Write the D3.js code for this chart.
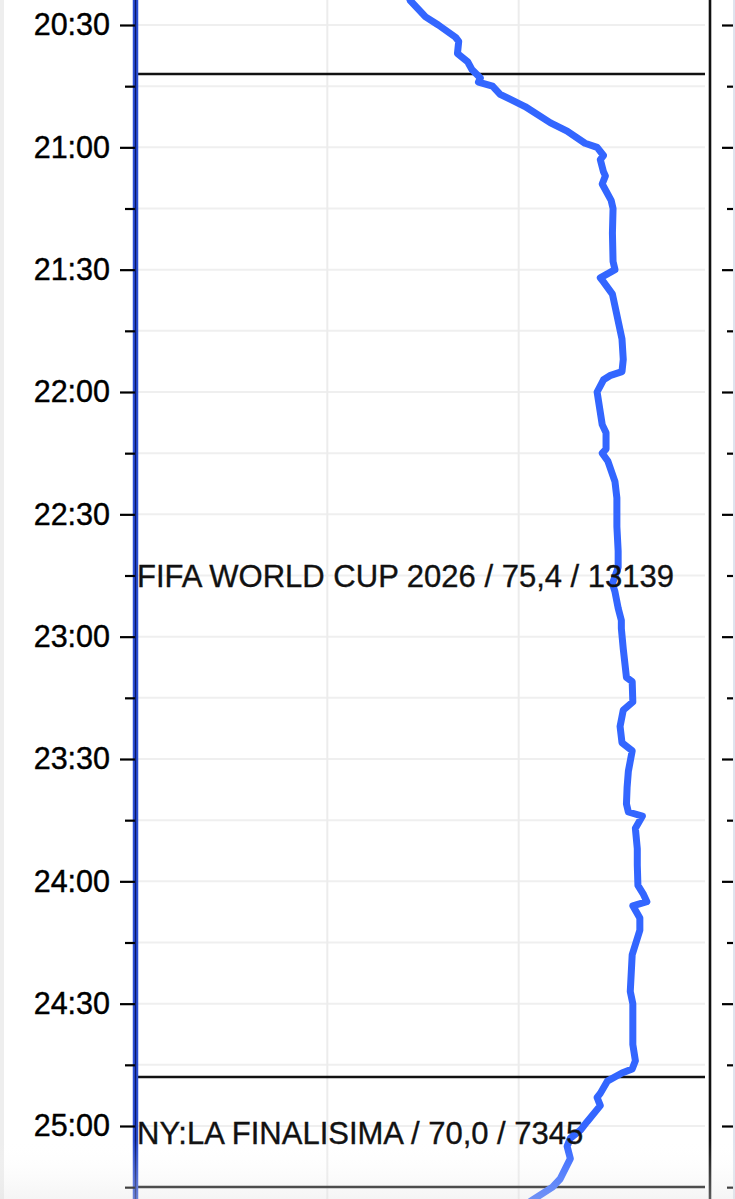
<!DOCTYPE html>
<html>
<head>
<meta charset="utf-8">
<script src="https://cdn.jsdelivr.net/npm/d3@7"></script>
<style>
  html, body { margin: 0; padding: 0; background: #ffffff; }
  svg { display: block; }
  text { font-family: "Liberation Sans", Arial, sans-serif; }
</style>
</head>
<body>
<div id="chart"></div>
<script>
// ---- Data ----
const times = ["20:21","20:24","20:28","20:30","20:33","20:34","20:37","20:39","20:41","20:43","20:44","20:45","20:47","20:50","20:54","20:56","20:59",
  "21:00","21:02","21:03","21:06","21:07","21:09","21:13","21:15","21:21","21:28","21:30","21:32","21:33","21:36","21:47","21:52","21:55","21:56","21:57",
  "22:00","22:08","22:10","22:14","22:15","22:17","22:22","22:26","22:33","22:39","22:43","22:47","22:49","22:53","22:56","22:58",
  "23:03","23:10","23:11","23:16","23:18","23:22","23:26","23:28","23:33","23:37","23:41","23:43","23:44","23:47","23:52","23:56",
  "24:01","24:03","24:05","24:06","24:09","24:12","24:18","24:27","24:30","24:40","24:44","24:46","24:47","24:49","24:52","24:53","24:55","24:59",
  "25:01","25:03","25:05","25:08","25:13","25:15","25:18","25:21"];
const values = [42.3,43.0,45.4,47.4,50.1,50.6,50.4,52.0,52.7,54.0,53.7,55.9,57.1,61.0,65.0,67.6,70.4,
  72.3,73.3,72.8,73.3,73.6,73.1,74.5,74.8,74.7,74.8,75.1,72.8,73.3,74.7,76.2,76.4,76.2,74.3,73.3,
  72.3,73.1,73.7,73.7,73.1,74.0,75.1,75.4,75.4,75.6,75.6,74.7,75.1,75.6,76.1,76.1,
  76.4,76.9,77.8,77.9,76.4,75.9,76.2,77.8,77.2,77.0,76.9,77.2,79.4,78.3,78.6,78.6,
  78.7,79.5,80.1,77.9,79.0,79.0,77.8,77.5,77.9,77.9,78.3,77.8,76.2,73.9,72.8,72.3,72.8,70.7,
  69.7,68.1,67.6,68.1,66.5,65.3,62.3,59.5];

const programNames  = ["FIFA WORLD CUP 2026 / 75,4 / 13139", "NY:LA FINALISIMA / 70,0 / 7345"];
const programStarts = ["20:42", "24:48"];
const programEnds   = ["24:48", "25:15"];

const majorTicks = ["20:30","21:00","21:30","22:00","22:30","23:00","23:30","24:00","24:30","25:00"];
const minorTicks = ["20:15","20:45","21:15","21:45","22:15","22:45","23:15","23:45","24:15","24:45","25:15"];
const xGrid = [30, 60];

// ---- Helpers ----
const toMin = s => { const [h, m] = s.split(":").map(Number); return h * 60 + m; };
const fmt = m => { const h = Math.floor(m / 60), mm = m % 60; return h + ":" + String(mm).padStart(2, "0"); };

const W = 735, H = 1199;
const svg = d3.select("#chart").append("svg").attr("width", W).attr("height", H);
svg.append("rect").attr("width", W).attr("height", H).attr("fill", "#ffffff");

// light screen edge at the far left
svg.append("rect").attr("x", 0).attr("y", 0).attr("width", 4).attr("height", H).attr("fill", "#eeeeee");

const axisX = 135, rightBorder = 710, lineEnd = 705;
const y = d3.scaleLinear().domain([toMin("20:30"), toMin("25:00")]).range([25, 1126]);
const x = d3.scaleLinear().domain([0, 90]).range([136, 710]);

// gridlines
const allTicks = majorTicks.concat(minorTicks).map(toMin);
svg.append("g").selectAll("line").data(allTicks).join("line")
  .attr("x1", axisX + 2).attr("x2", lineEnd)
  .attr("y1", d => y(d)).attr("y2", d => y(d))
  .attr("stroke", "#efefef").attr("stroke-width", 2);
svg.append("g").selectAll("line").data(xGrid).join("line")
  .attr("x1", d => x(d)).attr("x2", d => x(d))
  .attr("y1", 0).attr("y2", H)
  .attr("stroke", "#ececec").attr("stroke-width", 2);

// program boundaries
const bounds = Array.from(new Set(programStarts.concat(programEnds))).map(toMin);
svg.append("g").selectAll("line").data(bounds).join("line")
  .attr("x1", axisX + 2).attr("x2", lineEnd)
  .attr("y1", d => Math.round(y(d))).attr("y2", d => Math.round(y(d)))
  .attr("stroke", "#111").attr("stroke-width", 2.4);

// series line
const data = times.map((t, i) => ({ t: toMin(t), v: values[i] }));
const line = d3.line().x(d => x(d.v)).y(d => y(d.t));
svg.append("path").datum(data)
  .attr("d", line)
  .attr("fill", "none")
  .attr("stroke", "#3366ff")
  .attr("stroke-width", 7)
  .attr("stroke-linejoin", "round");

// program labels
svg.append("g").selectAll("text").data(programNames).join("text")
  .attr("x", axisX + 2)
  .attr("y", (d, i) => y((toMin(programStarts[i]) + toMin(programEnds[i])) / 2))
  .attr("dy", "0.38em")
  .attr("font-size", 31)
  .attr("fill", "#111")
  .attr("stroke", "#111").attr("stroke-width", 0.35)
  .text(d => d);

// left axis: blue zero series + axis
svg.append("line").attr("x1", axisX + 0.5).attr("x2", axisX + 0.5).attr("y1", 0).attr("y2", H)
  .attr("stroke", "#2b4fd6").attr("stroke-width", 5.5);

const gMajor = svg.append("g").attr("transform", `translate(${axisX},0)`)
  .call(d3.axisLeft(y).tickValues(majorTicks.map(toMin)).tickFormat(fmt).tickSize(15).tickPadding(10));
const gMinor = svg.append("g").attr("transform", `translate(${axisX},0)`)
  .call(d3.axisLeft(y).tickValues(minorTicks.map(toMin)).tickFormat("").tickSize(10));
[gMajor, gMinor].forEach(g => {
  g.select(".domain").remove();
  g.selectAll(".tick line").attr("stroke", "#000").attr("stroke-width", 2.2);
});
gMajor.selectAll(".tick text").attr("font-size", 30.5).attr("fill", "#000")
  .attr("stroke", "#000").attr("stroke-width", 0.4)
  .attr("font-family", "'Liberation Sans', Arial, sans-serif");
svg.append("line").attr("x1", axisX + 0.5).attr("x2", axisX + 0.5).attr("y1", 0).attr("y2", H)
  .attr("stroke", "#0a1a6a").attr("stroke-width", 1.4);

// right border of panel
svg.append("line").attr("x1", rightBorder).attr("x2", rightBorder).attr("y1", 0).attr("y2", H)
  .attr("stroke", "#111").attr("stroke-width", 2.6);

// next panel's axis (ticks only visible)
const axis2 = 737;
const g2a = svg.append("g").attr("transform", `translate(${axis2},0)`)
  .call(d3.axisLeft(y).tickValues(majorTicks.map(toMin)).tickFormat("").tickSize(15));
const g2b = svg.append("g").attr("transform", `translate(${axis2},0)`)
  .call(d3.axisLeft(y).tickValues(minorTicks.map(toMin)).tickFormat("").tickSize(10));
[g2a, g2b].forEach(g => {
  g.select(".domain").remove();
  g.selectAll(".tick line").attr("stroke", "#000").attr("stroke-width", 2.2);
});
svg.append("line").attr("x1", 734).attr("x2", 734).attr("y1", 0).attr("y2", H)
  .attr("stroke", "#dfe4ee").attr("stroke-width", 2);

// faint bottom overlay
const defs = svg.append("defs");
const grad = defs.append("linearGradient").attr("id", "bot").attr("x1", 0).attr("x2", 0).attr("y1", 0).attr("y2", 1);
grad.append("stop").attr("offset", "0%").attr("stop-color", "#ffffff").attr("stop-opacity", 0);
grad.append("stop").attr("offset", "100%").attr("stop-color", "#e2e2e2").attr("stop-opacity", 0.35);
svg.append("rect").attr("x", 0).attr("y", 1140).attr("width", W).attr("height", 59).attr("fill", "url(#bot)");
</script>
</body>
</html>
